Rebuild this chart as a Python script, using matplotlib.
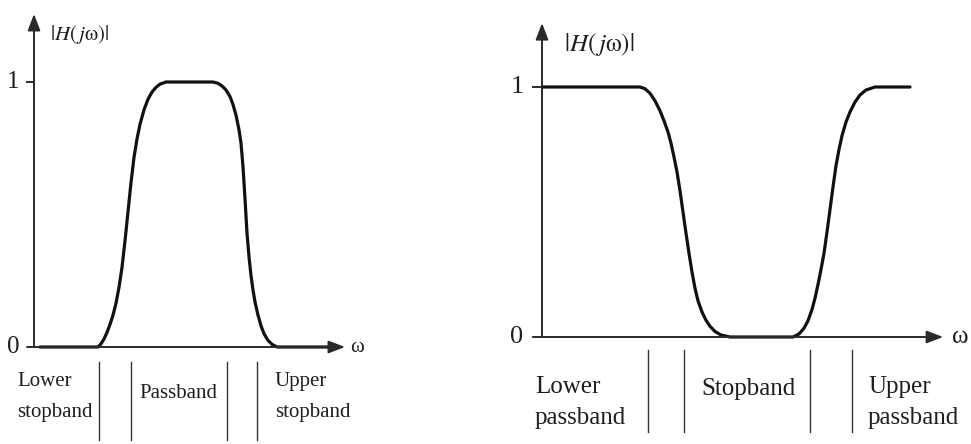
import matplotlib
matplotlib.use("Agg")
import matplotlib.pyplot as plt

plt.rcParams['font.family'] = ['Liberation Serif', 'DejaVu Serif']
plt.rcParams['mathtext.fontset'] = 'stix'

# ---------------- data ----------------
# Left: band-pass magnitude response
bp_w = [0.2, 2.133, 2.233, 2.333, 2.433, 2.533, 2.633, 2.733, 2.833, 2.933,
        3.033, 3.133, 3.233, 3.333, 3.433, 3.533, 3.667, 3.80, 3.933, 4.067,
        4.20, 4.40,
        5.967, 6.133, 6.267, 6.40, 6.533, 6.633, 6.733, 6.833, 6.90, 6.967,
        7.033, 7.10, 7.167, 7.233, 7.30, 7.367, 7.467, 7.567, 7.667, 7.80,
        7.933, 8.10, 10.0]
bp_h = [0.0, 0.0, 0.012, 0.03, 0.055, 0.085, 0.12, 0.165, 0.225, 0.30,
        0.40, 0.51, 0.62, 0.715, 0.785, 0.84, 0.895, 0.935, 0.962, 0.98,
        0.992, 1.0,
        1.0, 0.995, 0.985, 0.97, 0.945, 0.915, 0.875, 0.82, 0.77, 0.68,
        0.56, 0.43, 0.34, 0.27, 0.215, 0.17, 0.12, 0.08, 0.05, 0.025,
        0.01, 0.0, 0.0]
bp_edges = [2.17, 3.23, 6.43, 7.43]
bp_labels = ["Lower\nstopband", "Passband", "Upper\nstopband"]

# Right: band-stop magnitude response
bs_w = [0.0, 2.45, 2.575, 2.70, 2.825, 2.95, 3.05, 3.15, 3.225, 3.30, 3.375,
        3.45, 3.525, 3.60, 3.675, 3.75, 3.825, 3.90, 4.00, 4.10, 4.20, 4.325,
        4.475, 4.70,
        6.275, 6.425, 6.55, 6.65, 6.75, 6.825, 6.90, 6.975, 7.05, 7.125, 7.20,
        7.275, 7.35, 7.425, 7.50, 7.60, 7.70, 7.825, 7.95, 8.10, 8.325, 9.20]
bs_h = [1.0, 1.0, 0.993, 0.975, 0.945, 0.905, 0.865, 0.82, 0.775, 0.72, 0.66,
        0.585, 0.50, 0.415, 0.335, 0.26, 0.195, 0.145, 0.10, 0.067, 0.043, 0.022,
        0.008, 0.0,
        0.0, 0.012, 0.035, 0.065, 0.11, 0.155, 0.21, 0.27, 0.335, 0.42, 0.51,
        0.60, 0.685, 0.75, 0.805, 0.86, 0.90, 0.94, 0.968, 0.988, 1.0, 1.0]
bs_edges = [2.65, 3.55, 6.70, 7.75]
bs_labels = ["Lower\npassband", "Stopband", "Upper\npassband"]

y_ticks = [0, 1]
y_label = r'$|H(\,j\mathrm{\omega})|$'
x_label = 'ω'

W, H = 971, 444
fig = plt.figure(figsize=(W / 100, H / 100), dpi=100, facecolor='white')

axL = fig.add_axes([0, 0, 480 / W, 1])
axL.set_xlim(-34 / 30, (480 - 34) / 30)
axL.set_ylim((347 - 444) / 265, 347 / 265)
axR = fig.add_axes([480 / W, 0, 491 / W, 1])
axR.set_xlim((480 - 542) / 40, (971 - 542) / 40)
axR.set_ylim((337 - 444) / 250, 337 / 250)

for ax in (axL, axR):
    ax.axis('off')

axis_col = '#2a2a2a'
txt_col = '#1e1e1e'


def draw_panel(ax, w, h, edges, labels, fs, fs_tick, xtip, ytip, tick_x,
               label_xy, omega_x, sep_y, label_pos, label_y2, fs_lab, lsp):
    arrow = dict(arrowstyle='-|>,head_length=1.0,head_width=0.38',
                 color=axis_col, lw=1.4, shrinkA=0, shrinkB=0)
    ax.annotate('', xy=(xtip, 0), xytext=(-0.23, 0), arrowprops=arrow)
    ax.annotate('', xy=(0, ytip), xytext=(0, 0), arrowprops=arrow)
    ax.plot([-0.23, 0], [1, 1], color=axis_col, lw=1.4)
    # curve
    ax.plot(w, h, color='#111111', lw=2.3, solid_capstyle='round',
            solid_joinstyle='round')
    # tick labels
    for t in y_ticks:
        ax.text(tick_x, t, str(t), ha='center', va='center', fontsize=fs_tick,
                color=txt_col)
    ax.text(label_xy[0], label_xy[1], y_label, ha='left', va='center',
            fontsize=fs, color=txt_col)
    ax.text(omega_x, 0, x_label, ha='center', va='center', fontsize=fs,
            color=txt_col)
    # band edges
    for e in edges:
        ax.plot([e, e], sep_y, color='#333333', lw=1.0)
    # band labels
    ax.text(label_pos[0], label_y2, labels[0], ha='left', va='center',
            multialignment='left', fontsize=fs_lab, color=txt_col,
            linespacing=lsp)
    ax.text(label_pos[1], label_pos[3], labels[1], ha='center', va='center',
            fontsize=fs_lab, color=txt_col)
    ax.text(label_pos[2], label_y2, labels[2], ha='left', va='center',
            multialignment='left', fontsize=fs_lab, color=txt_col,
            linespacing=lsp)


draw_panel(axL, bp_w, bp_h, bp_edges, bp_labels, fs=15, fs_tick=18,
           xtip=10.37, ytip=1.257, tick_x=-0.7, label_xy=(0.55, 1.18),
           omega_x=10.78, sep_y=[-0.057, -0.351],
           label_pos=[-0.57, 4.8, 8.03, -0.176], label_y2=-0.19, fs_lab=15,
           lsp=1.85)

draw_panel(axR, bs_w, bs_h, bs_edges, bs_labels, fs=18, fs_tick=19,
           xtip=10.03, ytip=1.256, tick_x=-0.63, label_xy=(0.55, 1.17),
           omega_x=10.45, sep_y=[-0.052, -0.38],
           label_pos=[-0.18, 5.15, 8.15, -0.206], label_y2=-0.262, fs_lab=18,
           lsp=1.5)

fig.savefig('out.png', dpi=100, facecolor='white')
